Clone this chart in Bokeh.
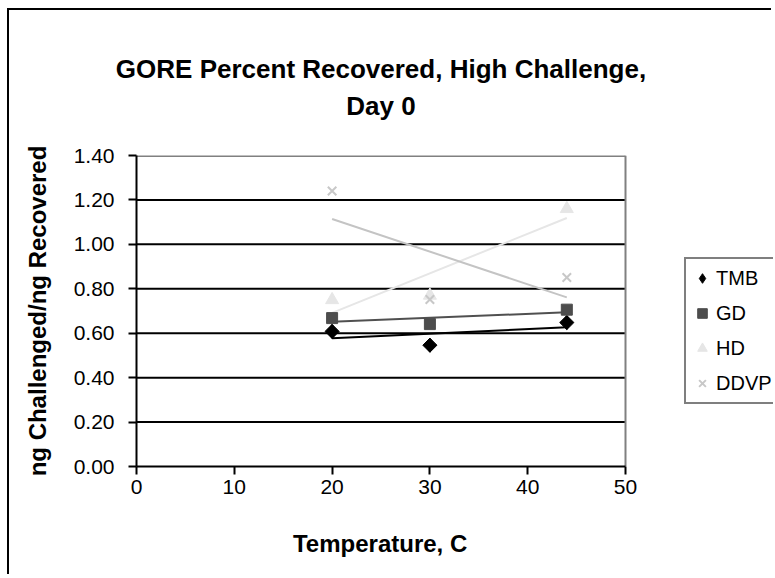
import numpy as np
from bokeh.plotting import figure
from bokeh.models import (Legend, LegendItem, FixedTicker, NumeralTickFormatter,
                          Range1d, Title)
from bokeh.embed import file_html
from bokeh.resources import INLINE

# ---- data ----
temps = [20, 30, 44]
tmb = [0.608, 0.546, 0.648]
gd = [0.668, 0.641, 0.706]
hd = [0.75, 0.77, 1.16]
ddvp = [1.24, 0.752, 0.851]
series_names = ["TMB", "GD", "HD", "DDVP"]
x_ticks = [0, 10, 20, 30, 40, 50]
y_ticks = [0.0, 0.2, 0.4, 0.6, 0.8, 1.0, 1.2, 1.4]
grid_ticks = [0.2, 0.4, 0.6, 0.8, 1.0, 1.2]
x_min, x_max = 0, 50
y_min, y_max = 0.0, 1.4
title_line1 = "GORE Percent Recovered, High Challenge,"
title_line2 = "Day 0"
x_label = "Temperature, C"
y_label = "ng Challenged/ng Recovered"

FONT = "Liberation Sans"
W, H = 764, 566
LEFT, TOP, BOTTOM = 127, 145, 110
PLOT_W = 489                      # pixel width of the 0..50 plot area
frame_w = W - LEFT
x_end = x_max * frame_w / PLOT_W  # frame extends right to hold the legend
plot_center = PLOT_W / 2

p = figure(width=W, height=H, output_backend="svg", toolbar_location=None,
           x_range=Range1d(x_min, x_end), y_range=Range1d(y_min, y_max),
           min_border_left=LEFT, min_border_top=TOP,
           min_border_right=0, min_border_bottom=BOTTOM)
p.styles = {"margin-left": "7px", "margin-top": "8px",
            "border-left": "2px solid black", "border-top": "2px solid black"}

# titles: added titles stack outward from the frame; p.title is outermost
TFS = 26
spacer = Title(text=" ", text_font_size="1px", standoff=28)
p.add_layout(spacer, "above")
t2 = Title(text=title_line2, align="left", offset=plot_center - 2.668 * TFS / 2,
           text_font=FONT, text_color="black",
           text_font_size=f"{TFS}px", text_font_style="bold", standoff=8)
p.add_layout(t2, "above")
p.title.text = title_line1
p.title.align = "left"
p.title.offset = plot_center - 20.395 * TFS / 2
p.title.text_font = FONT
p.title.text_font_size = f"{TFS}px"
p.title.text_font_style = "bold"
p.title.text_color = "black"
p.title.standoff = 2

# x axis title placed below the axis, centred on the 0..50 plot area
XFS = 24
xspacer = Title(text=" ", text_font_size="1px", standoff=27)
p.add_layout(xspacer, "below")
xt = Title(text=x_label, align="left", offset=plot_center - 7.335 * XFS / 2,
           text_font=FONT, text_color="black", text_font_size=f"{XFS}px",
           text_font_style="bold", standoff=2)
p.add_layout(xt, "below")

# frame / grid
p.outline_line_color = None
p.grid.visible = False
p.segment(x0=[x_min] * len(grid_ticks), x1=[x_max] * len(grid_ticks),
          y0=grid_ticks, y1=grid_ticks, line_color="black", line_width=2)
p.segment(x0=[x_min], x1=[x_max], y0=[y_max], y1=[y_max],
          line_color="#808080", line_width=3)
p.segment(x0=[x_max], x1=[x_max], y0=[y_min], y1=[y_max],
          line_color="#808080", line_width=2)
p.background_fill_color = "white"
p.border_fill_color = "white"

# axes
for ax in (p.xaxis[0], p.yaxis[0]):
    ax.axis_line_color = "black"
    ax.axis_line_width = 2
    ax.major_tick_line_color = "black"
    ax.major_tick_line_width = 2
    ax.major_tick_in = 0
    ax.major_tick_out = 8
    ax.minor_tick_line_color = None
    ax.major_label_text_font = FONT
    ax.major_label_text_font_size = "21px"
    ax.major_label_text_color = "black"
    ax.axis_label_text_font = FONT
    ax.axis_label_text_font_size = "24px"
    ax.axis_label_text_font_style = "bold"
    ax.axis_label_text_color = "black"

p.xaxis.ticker = FixedTicker(ticks=x_ticks)
p.xaxis.bounds = (x_min, x_max)
p.yaxis.ticker = FixedTicker(ticks=y_ticks)
p.yaxis.formatter = NumeralTickFormatter(format="0.00")
p.yaxis.axis_label = y_label
p.xaxis.major_label_standoff = 5
p.yaxis.major_label_standoff = 14
p.yaxis.axis_label_standoff = 20

# series
styles = [
    (tmb, "square", 10, np.pi / 4, "black", "black", "black"),
    (gd, "square", 11, 0, "#4d4d4d", "#4d4d4d", "#505050"),
    (hd, "triangle", 13, 0, "#e6e6e6", "#e6e6e6", "#e6e6e6"),
    (ddvp, "x", 12, 0, None, "#c8c8c8", "#c4c4c4"),
]

items = []
xs = np.array(temps, dtype=float)
xfit = np.array([xs.min(), xs.max()])
for (vals, marker, size, ang, fill, line, tcol), name in zip(styles, series_names):
    k, b = np.polyfit(xs, np.array(vals), 1)
    p.line(xfit, k * xfit + b, line_color=tcol, line_width=2)
for (vals, marker, size, ang, fill, line, tcol), name in zip(styles, series_names):
    legend_r = None
    if name == "TMB":
        # diamond drawn underneath the rotated square; it supplies the legend glyph
        legend_r = p.scatter(temps, vals, marker="diamond", size=14,
                             fill_color=fill, line_color=line)
    r = p.scatter(temps, vals, marker=marker, size=size, angle=ang, fill_color=fill,
                  line_color=line, line_width=2 if marker == "x" else 1)
    items.append(LegendItem(label=name, renderers=[legend_r or r]))

legend = Legend(items=items, location=(548, 62))
legend.label_text_font = FONT
legend.label_text_font_size = "20px"
legend.label_text_color = "black"
legend.label_height = 30
legend.glyph_height = 30
legend.glyph_width = 24
legend.spacing = 5
legend.padding = 4
legend.margin = 0
legend.label_standoff = 2
legend.border_line_color = "black"
legend.border_line_width = 2
legend.background_fill_color = "white"
legend.background_fill_alpha = 1
p.add_layout(legend)

open("out.html", "w").write(file_html(p, INLINE))
